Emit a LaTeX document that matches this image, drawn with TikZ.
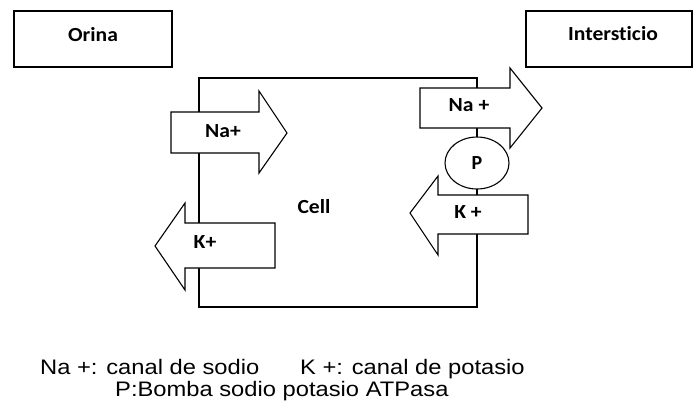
\documentclass[tikz,border=0pt]{standalone}
\usepackage{fontspec}
\setmainfont{Liberation Sans}
\newfontfamily\labelfont{Carlito}[Ligatures=NoCommon]
\usetikzlibrary{shapes.geometric}
\newcommand\widetext[1]{\scalebox{1.13}[1]{#1}}
\newcommand\widelabel[1]{\scalebox{1.08}[1]{#1}}
\tikzset{
  frame/.style={draw=black, line width=1.2pt},
  blockarrow/.style={draw=black, line width=1.1pt, fill=white, line join=miter},
  lbl/.style={font=\labelfont\bfseries\fontsize{20}{23}\selectfont, inner sep=0pt},
  legend/.style={font=\fontsize{21}{24}\selectfont, inner sep=0pt, anchor=base west}
}
\begin{document}
\begin{tikzpicture}[x=1pt,y=-1pt]
\useasboundingbox (0,0) rectangle (693,408);
\fill[white] (0,0) rectangle (693,408);

% compartments
\draw[frame] (14,11) rectangle (172,67);
\node[lbl] (orina) at (93,35) {\widelabel{Orina}};
\draw[frame] (526,11) rectangle (692,67);
\node[lbl] (inter) at (613,34) {\widelabel{Intersticio}};

% cell outline
\draw[frame] (199,78) rectangle (477,307);
\node[lbl] (cell) at (314,207) {\widelabel{Cell}};

% apical Na+ channel (into the cell)
\draw[blockarrow] (171,112) -- (259,112) -- (259,91) -- (287,133) -- (259,173) -- (259,153) -- (171,153) -- cycle;
\node[lbl] (naA) at (223,131) {\widelabel{Na+}};

% apical K+ channel (out of the cell)
\draw[blockarrow] (275,223) -- (185,223) -- (185,203) -- (155,246) -- (185,290) -- (185,268) -- (275,268) -- cycle;
\node[lbl] (kA) at (205,242) {\widelabel{K+}};

% basolateral Na+ (out through the pump)
\draw[blockarrow] (420,88) -- (510,88) -- (510,68) -- (542,108) -- (510,148) -- (510,128) -- (420,128) -- cycle;
\node[lbl] (naB) at (469,105) {\widelabel{Na +}};

% basolateral K+ (in through the pump)
\draw[blockarrow] (528,195) -- (438,195) -- (438,176) -- (410,213) -- (438,255) -- (438,234) -- (528,234) -- cycle;
\node[lbl] (kB) at (468,212) {\widelabel{K +}};

% Na/K ATPase pump
\node[draw=black, line width=1.1pt, fill=white, ellipse, minimum width=64pt, minimum height=52pt, inner sep=0pt, font=\labelfont\bfseries\fontsize{20}{23}\selectfont] (pump) at (477,163) {P};

% legend
\node[legend] (leg1a) at (40,374) {\widetext{Na +: canal de sodio}};
\node[legend] (leg1b) at (300,374) {\widetext{K +: canal de potasio}};
\node[legend] (leg2) at (115,396) {\widetext{P:Bomba sodio potasio ATPasa}};
\end{tikzpicture}
\end{document}
